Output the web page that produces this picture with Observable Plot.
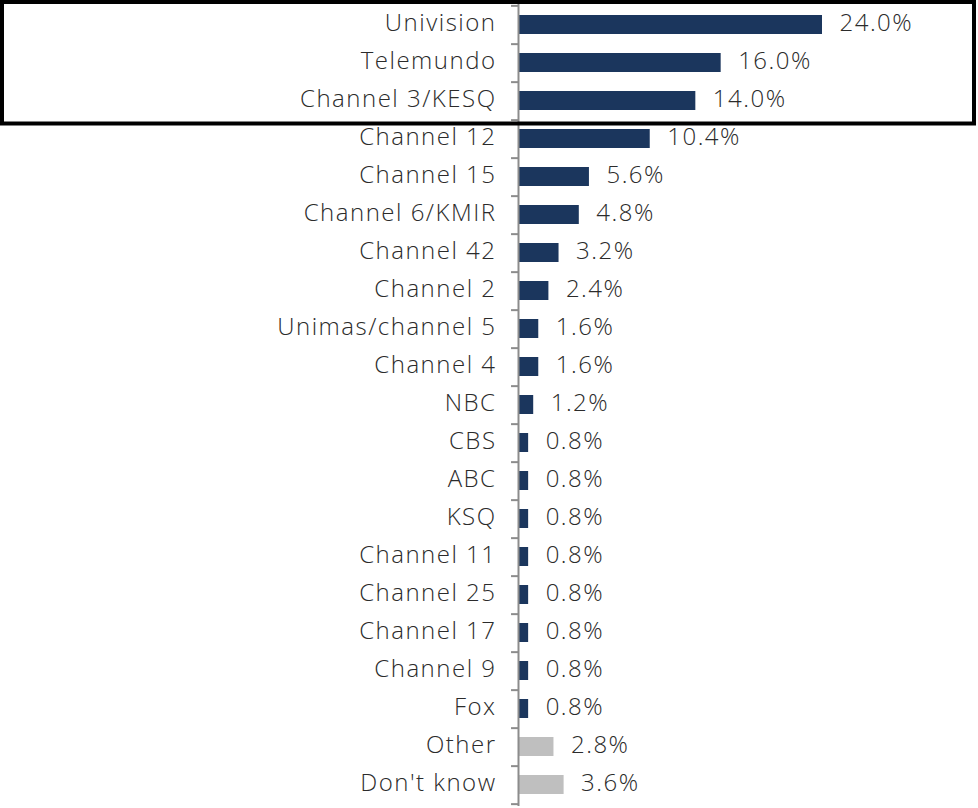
<!DOCTYPE html>
<html>
<head>
<meta charset="utf-8">
<script src="https://cdn.jsdelivr.net/npm/d3@7"></script>
<script src="https://cdn.jsdelivr.net/npm/@observablehq/plot@0.6"></script>
<style>
  html, body { margin: 0; padding: 0; background: #fff; }
  #chart { position: relative; width: 978px; height: 808px; }
  #chart svg { display: block; }
  #chart svg text { letter-spacing: 1.5px; }
</style>
</head>
<body>
<div id="chart"></div>
<script>
const categories = ["Univision", "Telemundo", "Channel 3/KESQ", "Channel 12", "Channel 15", "Channel 6/KMIR", "Channel 42", "Channel 2", "Unimas/channel 5", "Channel 4", "NBC", "CBS", "ABC", "KSQ", "Channel 11", "Channel 25", "Channel 17", "Channel 9", "Fox", "Other", "Don't know"];
const values = [24.0, 16.0, 14.0, 10.4, 5.6, 4.8, 3.2, 2.4, 1.6, 1.6, 1.2, 0.8, 0.8, 0.8, 0.8, 0.8, 0.8, 0.8, 0.8, 2.8, 3.6];
const grayCategories = ["Other", "Don't know"];
const highlighted = ["Univision", "Telemundo", "Channel 3/KESQ"];

const data = categories.map((c, i) => ({name: c, value: values[i], gray: grayCategories.includes(c)}));

const W = 978, H = 808, mT = 2, mB = 2;
const step = (H - mT - mB) / categories.length;
const font = "'Open Sans', 'Liberation Sans', sans-serif";

const plot = Plot.plot({
  width: W,
  height: H,
  marginLeft: 518,
  marginRight: 156,
  marginTop: mT,
  marginBottom: mB,
  style: {fontFamily: font, fontSize: "24px", fontWeight: 300, color: "#2b2b2b", background: "#fff"},
  x: {domain: [0, 24], axis: null},
  y: {domain: categories, paddingInner: 0.5, paddingOuter: 0.25, label: null},
  marks: [
    Plot.barX(data, {y: "name", x: "value", fill: d => d.gray ? "#bfbfbf" : "#1b365d"}),
    Plot.text(data, {y: "name", x: "value", text: d => d.value.toFixed(1) + "%", textAnchor: "start", dx: 17, dy: -2, fill: "#2b2b2b", fontSize: 24}),
    Plot.axisY({tickSize: 0, tickPadding: 22, fontSize: 24, dy: -2, fill: "#2b2b2b", label: null}),
    Plot.ruleX([0], {stroke: "#8c8c8c", strokeWidth: 2}),
    Plot.ruleY(categories, {y: d => d, x1: -0.55, x2: 0, dy: step / 2, stroke: "#8c8c8c", strokeWidth: 2}),
    Plot.ruleY([categories[0]], {y: d => d, x1: -0.55, x2: 0, dy: -step / 2, stroke: "#8c8c8c", strokeWidth: 2})
  ]
});

document.getElementById("chart").appendChild(plot);

// Highlight box around the top categories
const ys = plot.scale("y");
const s = ys.step;
const lastIdx = categories.indexOf(highlighted[highlighted.length - 1]);
const boxTop = 2;
const boxBottom = mT + (lastIdx + 1) * s + 7.5;
d3.select(plot).append("rect")
  .attr("x", 2).attr("y", boxTop)
  .attr("width", W - 6).attr("height", boxBottom - boxTop)
  .attr("fill", "none").attr("stroke", "#000").attr("stroke-width", 4);
</script>
</body>
</html>
